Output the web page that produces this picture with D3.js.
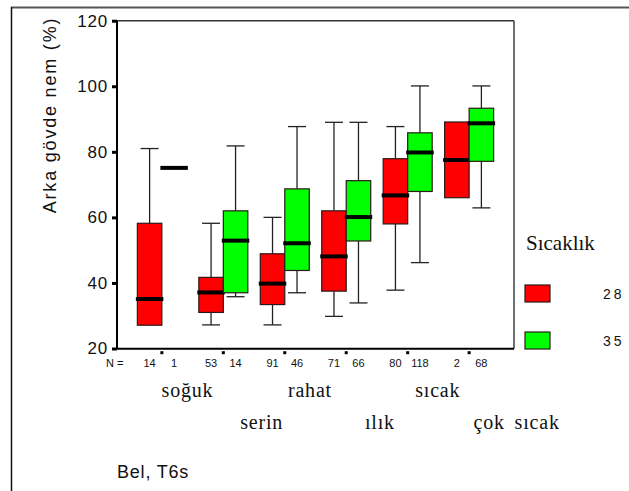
<!DOCTYPE html>
<html>
<head>
<meta charset="utf-8">
<script src="https://cdn.jsdelivr.net/npm/d3@7"></script>
<style>
  html, body { margin: 0; padding: 0; background: #fff; }
  svg { display: block; }
</style>
</head>
<body>
<svg id="chart" width="629" height="491"></svg>
<script>
// Thermal comfort categories and the two temperature series (28 / 35)
const categories = ["soğuk", "serin", "rahat", "ılık", "sıcak", "çok sıcak"];
const seriesNames = ["28", "35"];
const seriesColors = ["#ff0000", "#00ff00"];

const n28 = [14, 53, 91, 71, 80, 2];
const n35 = [1, 14, 46, 66, 118, 68];

// Box statistics: lower whisker, Q1, median, Q3, upper whisker
const low28 = [27.1, 27.2, 27.2, 29.8, 37.8, 66.0];
const q1_28 = [27.1, 31.0, 33.4, 37.5, 58.0, 66.0];
const med28 = [35.1, 37.1, 39.8, 48.1, 66.7, 77.5];
const q3_28 = [58.2, 41.7, 48.9, 62.0, 77.9, 89.1];
const high28 = [81.0, 58.2, 60.0, 89.0, 87.7, 89.1];

const low35 = [75.1, 35.8, 37.0, 33.9, 46.2, 62.9];
const q1_35 = [75.1, 37.0, 43.8, 52.8, 67.9, 77.1];
const med35 = [75.1, 52.9, 52.1, 60.1, 79.8, 88.7];
const q3_35 = [75.1, 62.0, 68.7, 71.2, 85.8, 93.3];
const high35 = [75.1, 81.8, 87.7, 89.0, 100.1, 100.1];

const yTicks = [20, 40, 60, 80, 100, 120];

const yTitle = "Arka gövde nem (%)";
const legendTitle = "Sıcaklık";
const footnote = "Bel, T6s";

// ---- layout ----
const SANS = "'Liberation Sans', Arial, sans-serif";
const SERIF = "'Liberation Serif', 'Times New Roman', serif";
const plot = { left: 117, right: 514, top: 20.7, bottom: 348.7 };
const boxW = 24.5;
const capW = 18;
// horizontal shift of each category name from its group centre, and its row
const labelDx = [25.6, 38.3, 25.2, 33.7, 30.1, 47.5];
const labelRowY = [397.3, 429.3];

const svg = d3.select("#chart");

const x = d3.scalePoint()
  .domain(categories)
  .range([plot.left, plot.right])
  .padding(0.73);

const y = d3.scaleLinear()
  .domain([20, 120])
  .range([348.5, plot.top]);

// outer frame (top and left edges visible)
svg.append("line").attr("x1", 11).attr("x2", 640).attr("y1", 7.5).attr("y2", 7.5)
  .attr("stroke", "#555").attr("stroke-width", 2);
svg.append("line").attr("x1", 11.5).attr("x2", 11.5).attr("y1", 7).attr("y2", 491)
  .attr("stroke", "#111").attr("stroke-width", 1.5);

// plot frame: top and right thin, left and bottom axis heavier
svg.append("line").attr("x1", plot.left).attr("x2", plot.right).attr("y1", plot.top).attr("y2", plot.top)
  .attr("stroke", "#333").attr("stroke-width", 1.4);
svg.append("line").attr("x1", plot.right).attr("x2", plot.right).attr("y1", plot.top).attr("y2", plot.bottom)
  .attr("stroke", "#333").attr("stroke-width", 1.4);

// y axis
const yAxis = d3.axisLeft(y).tickValues(yTicks).tickSize(5).tickPadding(4);
const gy = svg.append("g").attr("transform", `translate(${plot.left},0)`).call(yAxis);
gy.select(".domain").attr("stroke", "#000").attr("stroke-width", 2)
  .attr("d", `M0,${plot.top}V${plot.bottom}`);
gy.selectAll(".tick line").attr("stroke", "#000").attr("stroke-width", 3);
gy.selectAll(".tick text")
  .attr("font-family", SANS).attr("font-size", 17).attr("fill", "#111")
  .attr("letter-spacing", 0.8);

// x axis line with small dot ticks below group centres
svg.append("line").attr("x1", plot.left - 1).attr("x2", plot.right).attr("y1", plot.bottom).attr("y2", plot.bottom)
  .attr("stroke", "#000").attr("stroke-width", 2);
svg.selectAll(".xdot").data(categories).join("rect")
  .attr("class", "xdot")
  .attr("x", d => x(d) - 1.5).attr("y", plot.bottom + 2.5)
  .attr("width", 3).attr("height", 3).attr("fill", "#000");

// y axis title
svg.append("text")
  .attr("transform", `translate(56,${115}) rotate(-90)`)
  .attr("text-anchor", "middle")
  .attr("font-family", SANS).attr("font-size", 18).attr("letter-spacing", 1.8)
  .attr("fill", "#111")
  .text(yTitle);

// assemble box records from the arrays
const series = [
  { name: seriesNames[0], color: seriesColors[0], n: n28, lo: low28, q1: q1_28, med: med28, q3: q3_28, hi: high28, dx: -boxW },
  { name: seriesNames[1], color: seriesColors[1], n: n35, lo: low35, q1: q1_35, med: med35, q3: q3_35, hi: high35, dx: 0 }
];
const boxes = [];
series.forEach(s => categories.forEach((c, i) => {
  boxes.push({ cat: c, color: s.color, n: s.n[i], lo: s.lo[i], q1: s.q1[i], med: s.med[i], q3: s.q3[i], hi: s.hi[i], cx: x(c) + s.dx + boxW / 2, x0: x(c) + s.dx });
}));

const gb = svg.append("g");
boxes.forEach(b => {
  const g = gb.append("g");
  const wstroke = "#222";
  if (b.hi > b.q3) {
    g.append("line").attr("x1", b.cx).attr("x2", b.cx).attr("y1", y(b.hi)).attr("y2", y(b.q3))
      .attr("stroke", wstroke).attr("stroke-width", 1.3);
    g.append("line").attr("x1", b.cx - capW / 2).attr("x2", b.cx + capW / 2).attr("y1", y(b.hi)).attr("y2", y(b.hi))
      .attr("stroke", wstroke).attr("stroke-width", 1.3);
  }
  if (b.lo < b.q1) {
    g.append("line").attr("x1", b.cx).attr("x2", b.cx).attr("y1", y(b.q1)).attr("y2", y(b.lo))
      .attr("stroke", wstroke).attr("stroke-width", 1.3);
    g.append("line").attr("x1", b.cx - capW / 2).attr("x2", b.cx + capW / 2).attr("y1", y(b.lo)).attr("y2", y(b.lo))
      .attr("stroke", wstroke).attr("stroke-width", 1.3);
  }
  if (b.q3 > b.q1) {
    g.append("rect").attr("x", b.x0).attr("y", y(b.q3))
      .attr("width", boxW).attr("height", y(b.q1) - y(b.q3))
      .attr("fill", b.color).attr("stroke", "#2a1a1a").attr("stroke-width", 1.2);
  }
  g.append("line").attr("x1", b.x0 - 1.5).attr("x2", b.x0 + boxW + 1.5)
    .attr("y1", y(b.med)).attr("y2", y(b.med))
    .attr("stroke", "#000").attr("stroke-width", 4);
});

// case counts under the axis
svg.append("text").attr("x", 106).attr("y", 367)
  .attr("font-family", SANS).attr("font-size", 11).attr("fill", "#111")
  .text("N =");
svg.selectAll(".ncount").data(boxes).join("text")
  .attr("class", "ncount")
  .attr("x", d => d.cx).attr("y", 367)
  .attr("text-anchor", "middle")
  .attr("font-family", SANS).attr("font-size", 11).attr("fill", "#111")
  .text(d => d.n);

// category names on two staggered rows
svg.selectAll(".cat").data(categories).join("text")
  .attr("class", "cat")
  .attr("x", (d, i) => x(d) + labelDx[i])
  .attr("y", (d, i) => labelRowY[i % 2])
  .attr("text-anchor", "middle")
  .attr("font-family", SERIF).attr("font-size", 20)
  .attr("letter-spacing", 0.8).attr("word-spacing", 4)
  .attr("fill", "#111")
  .text(d => d);

// legend
svg.append("text").attr("x", 526).attr("y", 250)
  .attr("font-family", SERIF).attr("font-size", 21).attr("fill", "#111")
  .text(legendTitle);
const legY = [285, 332];
const legTextY = [298.7, 345.5];
series.forEach((s, i) => {
  svg.append("rect").attr("x", 525).attr("y", legY[i]).attr("width", 25).attr("height", 17)
    .attr("fill", s.color).attr("stroke", "#2a1a1a").attr("stroke-width", 1.2);
  svg.append("text").attr("x", 603).attr("y", legTextY[i])
    .attr("font-family", SANS).attr("font-size", 14).attr("letter-spacing", 3)
    .attr("fill", "#111")
    .text(s.name);
});

// footnote
svg.append("text").attr("x", 117).attr("y", 478)
  .attr("font-family", SANS).attr("font-size", 18).attr("letter-spacing", 0.8)
  .attr("fill", "#111")
  .text(footnote);
</script>
</body>
</html>
